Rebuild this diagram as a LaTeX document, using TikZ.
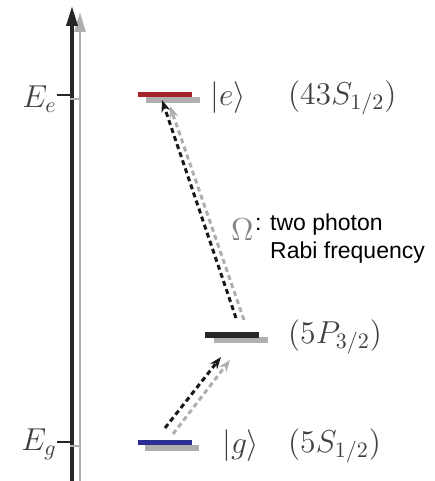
\documentclass[tikz,border=0pt]{standalone}
\usepackage{graphicx}
\usepackage{fontspec}
\newfontfamily\arial{Liberation Sans}
\usetikzlibrary{arrows.meta}
\definecolor{lvred}{RGB}{165,35,40}
\definecolor{lvblue}{RGB}{45,45,150}
\definecolor{ghostc}{RGB}{175,175,175}
\newcommand{\mylblmath}[1]{\scalebox{2.2}{\fontsize{14.4}{17}\selectfont$#1$}}
\begin{document}
\begin{tikzpicture}[x=1pt,y=-1pt,
  axisline/.style={line width=3.6pt,-{Triangle[length=20pt,width=11pt]}},
  levelbox/.style={draw=none,inner sep=0pt,minimum width=54pt,minimum height=5.5pt},
  trans/.style={line width=3pt,dash pattern=on 5pt off 3.5pt,-{Stealth[length=12pt,width=9pt]}},
  lbl/.style={inner sep=0pt},
  sans/.style={inner sep=0pt,anchor=west,font=\arial\fontsize{23}{26}\selectfont},
]
\useasboundingbox (0,0) rectangle (434,481);
% ---- axis ----
\coordinate (axgB) at (80,481);
\coordinate (axgT) at (80,12);
\coordinate (axB) at (72,481);
\coordinate (axT) at (72,6);
\draw[axisline,ghostc,line width=2.8pt] (axgB) -- (axgT);
\draw[axisline,black!85] (axB) -- (axT);
% ticks
\coordinate (teL) at (57,95);  \coordinate (teR) at (72,95);
\coordinate (tgL) at (57,442); \coordinate (tgR) at (72,442);
\coordinate (tegL) at (70,99); \coordinate (tegR) at (80,99);
\coordinate (tggL) at (70,446); \coordinate (tggR) at (80,446);
\draw[line width=1.5pt,ghostc] (tegL) -- (tegR);
\draw[line width=1.5pt,ghostc] (tggL) -- (tggR);
\draw[line width=2.2pt,black!85] (teL) -- (teR);
\draw[line width=2.2pt,black!85] (tgL) -- (tgR);
% ---- levels ----
\node[levelbox,fill=ghostc] (eg) at (173,100) {};
\node[levelbox,fill=ghostc] (pg) at (241,340) {};
\node[levelbox,fill=ghostc] (gg) at (172,448) {};
\node[levelbox,fill=lvred] (e) at (165,94.5) {};
\node[levelbox,fill=black!85] (p) at (232,335) {};
\node[levelbox,fill=lvblue] (g) at (165,442.5) {};
% ---- transitions ----
\coordinate (a1gS) at (173,434); \coordinate (a1gE) at (230,360);
\coordinate (a1S) at (165,428);  \coordinate (a1E) at (221,357);
\coordinate (a2gS) at (244,320); \coordinate (a2gE) at (170,106);
\coordinate (a2S) at (236,318);  \coordinate (a2E) at (162,100);
\draw[trans,ghostc] (a1gS) -- (a1gE);
\draw[trans,ghostc] (a2gS) -- (a2gE);
\draw[trans,black!90] (a1S) -- (a1E);
\draw[trans,black!90] (a2S) -- (a2E);
% ---- labels ----
\node[lbl,anchor=east,text=black!75] (Ee) at (57,99) {\mylblmath{E_{e}}};
\node[lbl,anchor=east,text=black!75] (Eg) at (57,444) {\mylblmath{E_{g}}};
\node[lbl,anchor=west,text=black!75] (ke) at (210,98) {\mylblmath{|e\rangle}};
\node[lbl,anchor=west,text=black!75] (se) at (288,98) {\mylblmath{(43S_{1/2})}};
\node[lbl,anchor=west,text=black!75] (sp) at (288,337) {\mylblmath{(5P_{3/2})}};
\node[lbl,anchor=west,text=black!75] (kg) at (222,446) {\mylblmath{|g\rangle}};
\node[lbl,anchor=west,text=black!75] (sg) at (288,446) {\mylblmath{(5S_{1/2})}};
\node[lbl,anchor=west,text=black!50] (om) at (231,230) {\mylblmath{\Omega}};
\node[sans] (t1) at (255,225) {: two photon};
\node[sans] (t2) at (270,253) {Rabi frequency};
\end{tikzpicture}
\end{document}
